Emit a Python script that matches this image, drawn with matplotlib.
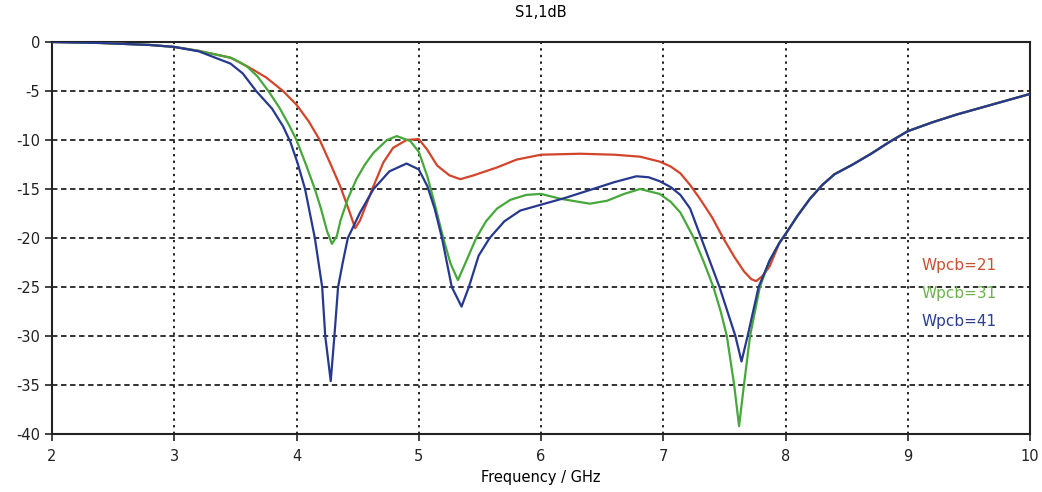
import numpy as np
import matplotlib
matplotlib.use("Agg")
import matplotlib.pyplot as plt

# S11 (dB) vs frequency for three PCB widths
freq_common = [8.0, 8.1, 8.2, 8.3, 8.4, 8.55, 8.7, 8.85, 9.0, 9.2, 9.4, 9.6, 9.8, 10.0]
s11_common = [-19.6, -17.7, -16.0, -14.6, -13.5, -12.5, -11.4, -10.2, -9.1, -8.2, -7.4, -6.7, -6.0, -5.3]

freq_21 = [2.0, 2.4, 2.8, 3.0, 3.2, 3.46, 3.6, 3.75, 3.89, 4.0, 4.1, 4.19, 4.28, 4.36,
           4.43, 4.48, 4.52, 4.57, 4.63, 4.71, 4.79, 4.9, 5.0, 5.07, 5.15, 5.25, 5.34,
           5.45, 5.64, 5.8, 6.0, 6.32, 6.6, 6.81, 6.97, 7.06, 7.14, 7.22, 7.3, 7.4,
           7.49, 7.58, 7.66, 7.72, 7.76, 7.81, 7.87, 7.95]
s11_21 = [0.0, -0.1, -0.3, -0.5, -0.9, -1.6, -2.5, -3.6, -5.0, -6.4, -8.1, -10.0, -12.5, -14.8,
          -17.2, -19.0, -18.2, -16.6, -14.7, -12.3, -10.8, -10.0, -9.9, -11.0, -12.6, -13.6, -14.0,
          -13.6, -12.8, -12.0, -11.5, -11.4, -11.5, -11.7, -12.2, -12.7, -13.4, -14.6, -16.0, -17.9,
          -20.0, -21.9, -23.4, -24.2, -24.4, -23.9, -22.9, -20.5]

freq_31 = [2.0, 2.4, 2.8, 3.0, 3.2, 3.46, 3.52, 3.6, 3.68, 3.77, 3.86, 3.94, 4.0, 4.08, 4.15, 4.2,
           4.25, 4.29, 4.33, 4.36, 4.42, 4.49, 4.56, 4.63, 4.74, 4.82, 4.93, 5.0, 5.07, 5.13,
           5.2, 5.26, 5.32, 5.38, 5.47, 5.55, 5.64, 5.75, 5.88, 6.0, 6.16, 6.4, 6.54, 6.68,
           6.81, 6.97, 7.06, 7.14, 7.25, 7.33, 7.41, 7.47, 7.52, 7.58, 7.62, 7.66, 7.71, 7.79,
           7.87, 7.95]
s11_31 = [0.0, -0.1, -0.3, -0.5, -0.9, -1.6, -1.95, -2.55, -3.5, -5.0, -6.7, -8.5, -10.0, -12.6, -15.0, -17.0,
          -19.3, -20.6, -19.8, -18.2, -16.0, -14.0, -12.5, -11.3, -10.0, -9.6, -10.1, -11.2, -13.7, -16.5,
          -20.0, -22.6, -24.3, -22.6, -20.0, -18.3, -17.0, -16.1, -15.6, -15.5, -16.0, -16.5, -16.2, -15.5,
          -15.0, -15.5, -16.3, -17.4, -20.0, -22.4, -25.0, -27.5, -30.0, -35.0, -39.2, -35.0, -30.0, -25.0,
          -22.3, -20.5]

freq_41 = [2.0, 2.4, 2.8, 3.0, 3.2, 3.46, 3.56, 3.67, 3.8, 3.89, 3.95, 4.01, 4.07, 4.15, 4.18,
           4.21, 4.235, 4.28, 4.31, 4.34, 4.38, 4.42, 4.52, 4.63, 4.76, 4.9, 5.0, 5.07, 5.13,
           5.19, 5.27, 5.35, 5.41, 5.49, 5.58, 5.7, 5.83, 6.0, 6.2, 6.4, 6.6, 6.78, 6.88, 6.97,
           7.06, 7.14, 7.22, 7.31, 7.46, 7.59, 7.64, 7.69, 7.78, 7.87, 7.95]
s11_41 = [0.0, -0.1, -0.3, -0.5, -0.95, -2.2, -3.2, -5.0, -6.8, -8.6, -10.2, -12.4, -15.0, -20.0, -22.5,
          -25.0, -30.0, -34.6, -30.0, -25.0, -22.4, -20.0, -17.4, -15.0, -13.2, -12.4, -13.0, -14.7, -17.0,
          -20.0, -25.0, -27.0, -25.0, -21.8, -20.0, -18.3, -17.2, -16.6, -15.9, -15.1, -14.3, -13.7, -13.8, -14.2,
          -14.8, -15.6, -17.0, -20.0, -25.0, -30.0, -32.6, -30.0, -25.0, -22.3, -20.5]

labels = ["Wpcb=21", "Wpcb=31", "Wpcb=41"]
line_colors = ["#d2452a", "#46a83a", "#26388f"]
text_colors = ["#c8502e", "#6cb24e", "#2a3f8f"]

plt.rcParams["font.family"] = "DejaVu Sans"
plt.rcParams["axes.unicode_minus"] = False
fig = plt.figure(figsize=(10.42, 4.92), dpi=100)
ax = fig.add_axes([0.0499, 0.1179, 0.9386, 0.7967])

series = [(freq_21, s11_21), (freq_31, s11_31), (freq_41, s11_41)]
for (f, s), c in zip(series, line_colors):
    ax.plot(f + freq_common, s + s11_common, color=c, lw=1.6, zorder=3)

ax.set_xlim(2, 10)
ax.set_ylim(-40, 0)
ax.set_xticks(range(2, 11))
ax.set_yticks(range(-40, 1, 5))
ax.tick_params(axis="both", labelsize=10.5, length=5, width=1.2, direction="out", colors="#222222")
ax.tick_params(axis="x", pad=6)

ax.xaxis.grid(True, linestyle=(0, (1.2, 2.2)), color="#222222", lw=1.4)
ax.yaxis.grid(True, linestyle=(0, (3, 2)), color="#222222", lw=1.3)
for sp in ax.spines.values():
    sp.set_color("#222222")
    sp.set_linewidth(1.5)

ax.set_title("S1,1dB", fontsize=10.5, pad=18)
ax.set_xlabel("Frequency / GHz", fontsize=10.5, labelpad=4)

for i, (lab, c) in enumerate(zip(labels, text_colors)):
    ax.text(0.889, 0.43 - i * 0.072, lab, color=c, fontsize=11,
            transform=ax.transAxes, va="center", ha="left", zorder=4)

fig.savefig("out.png", dpi=100)
